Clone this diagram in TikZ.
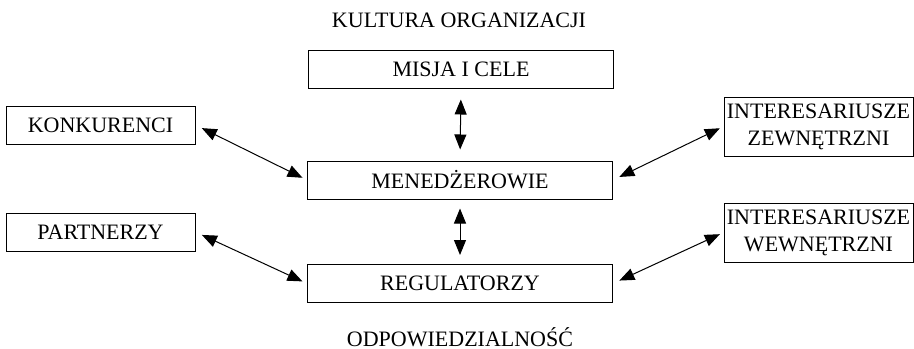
\documentclass[tikz,border=0pt]{standalone}
\usepackage{fontspec}
\setmainfont{Liberation Serif}
\usetikzlibrary{arrows.meta}

\begin{document}
\begin{tikzpicture}[
    x=0.5pt, y=-0.5pt,
    every node/.style={font=\fontsize{11}{13.5}\selectfont},
    box/.style={rectangle, draw=black, line width=0.5pt, align=center,
        inner sep=0pt, minimum height=19pt},
    midbox/.style={box, minimum width=152.5pt},
    sidebox/.style={box, minimum width=94.5pt},
    tallbox/.style={sidebox, minimum height=29.5pt},
    headline/.style={anchor=base},
    link/.style={{Triangle[length=7.5pt,width=6pt]}-{Triangle[length=7.5pt,width=6pt]},
        line width=0.5pt, draw=black},
]
\useasboundingbox (0,0) rectangle (914,348);

% ===== centre column =====
\node[headline] (kultura) at (459,27) {KULTURA ORGANIZACJI};

\node[midbox] (misja) at (461,69)    {MISJA I CELE};
\node[midbox] (men)   at (460,180)   {MENEDŻEROWIE};
\node[midbox] (reg)   at (460,283.5) {REGULATORZY};

\node[headline] (odp) at (460,346) {ODPOWIEDZIALNOŚĆ};

% ===== sides =====
\node[sidebox] (konk)  at (100.5,125) {KONKURENCI};
\node[sidebox] (partn) at (100.5,232) {PARTNERZY};

\node[tallbox] (intz) at (818.5,126.5) {INTERESARIUSZE\\ZEWNĘTRZNI};
\node[tallbox] (intw) at (818.5,232.5) {INTERESARIUSZE\\WEWNĘTRZNI};

% vertical links
\draw[link, shorten <=5.5pt, shorten >=5.5pt] (misja.south) -- (men.north);
\draw[link, shorten <=4.5pt, shorten >=4.5pt] (men.south) -- (reg.north);

% diagonal links
\foreach \a/\b in {konk/men, partn/reg}
    \draw[link, shorten <=3.5pt, shorten >=2.5pt] (\a.east) -- (\b.west);
\foreach \a/\b in {men/intz, reg/intw}
    \draw[link, shorten <=3.5pt, shorten >=2pt] (\a.east) -- (\b.west);

\end{tikzpicture}
\end{document}
